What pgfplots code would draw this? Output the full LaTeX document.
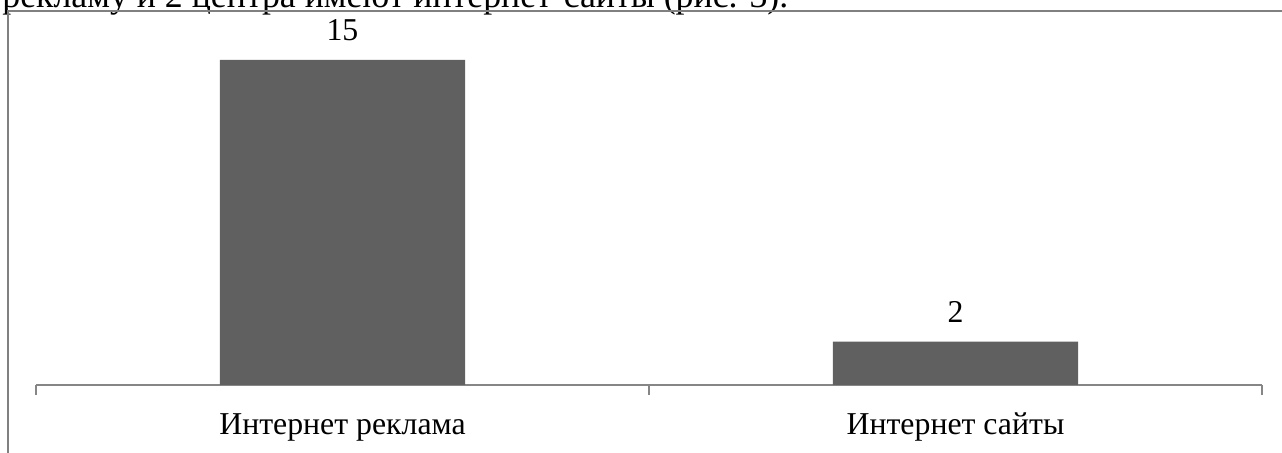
\documentclass[border=0pt]{standalone}
\usepackage{fontspec}
\setmainfont{Liberation Serif}
\usepackage{pgfplots}
\pgfplotsset{compat=1.18}
\definecolor{barfill}{RGB}{96,96,96}
\definecolor{axisgray}{RGB}{134,134,134}
\definecolor{framegray}{RGB}{128,128,128}
\begin{document}
\begin{tikzpicture}
\useasboundingbox (0,0) rectangle (641pt,226.5pt);
\clip (0,0) rectangle (641pt,226.5pt);
\node[anchor=base west, inner sep=0pt, font=\fontsize{17.9pt}{21pt}\selectfont] at (1pt,222.5pt) {рекламу и 2 центра имеют интернет-сайты (рис. 3).};
\draw[framegray, line width=0.6pt] (4pt,0) -- (4pt,221pt) -- (641pt,221pt);
\begin{axis}[
  at={(18pt,34pt)}, anchor=south west,
  scale only axis, width=613pt, height=187pt,
  xmin=-0.5, xmax=1.5, ymin=0, ymax=17.26,
  axis x line*=bottom, axis y line=none,
  x axis line style={axisgray, line width=1pt, -},
  xtick={0,1},
  xticklabels={Интернет реклама, Интернет сайты},
  minor xtick={-0.5,0.5,1.5},
  major tick length=0pt, minor tick length=5pt,
  tick align=outside,
  every tick/.style={axisgray, line width=1pt},
  xticklabel style={anchor=base, inner sep=0pt, yshift=-25pt, font=\fontsize{15.9pt}{19pt}\selectfont},
  /pgf/number format/assume math mode=true,
  nodes near coords,
  every node near coord/.append style={anchor=base, inner sep=0pt, yshift=9.8pt, font=\fontsize{15.9pt}{19pt}\selectfont, black},
  ybar, bar width=0.4,
  clip=false,
]
\addplot[fill=barfill, draw=none] coordinates {(0,15) (1,2)};
\end{axis}
\end{tikzpicture}
\end{document}
